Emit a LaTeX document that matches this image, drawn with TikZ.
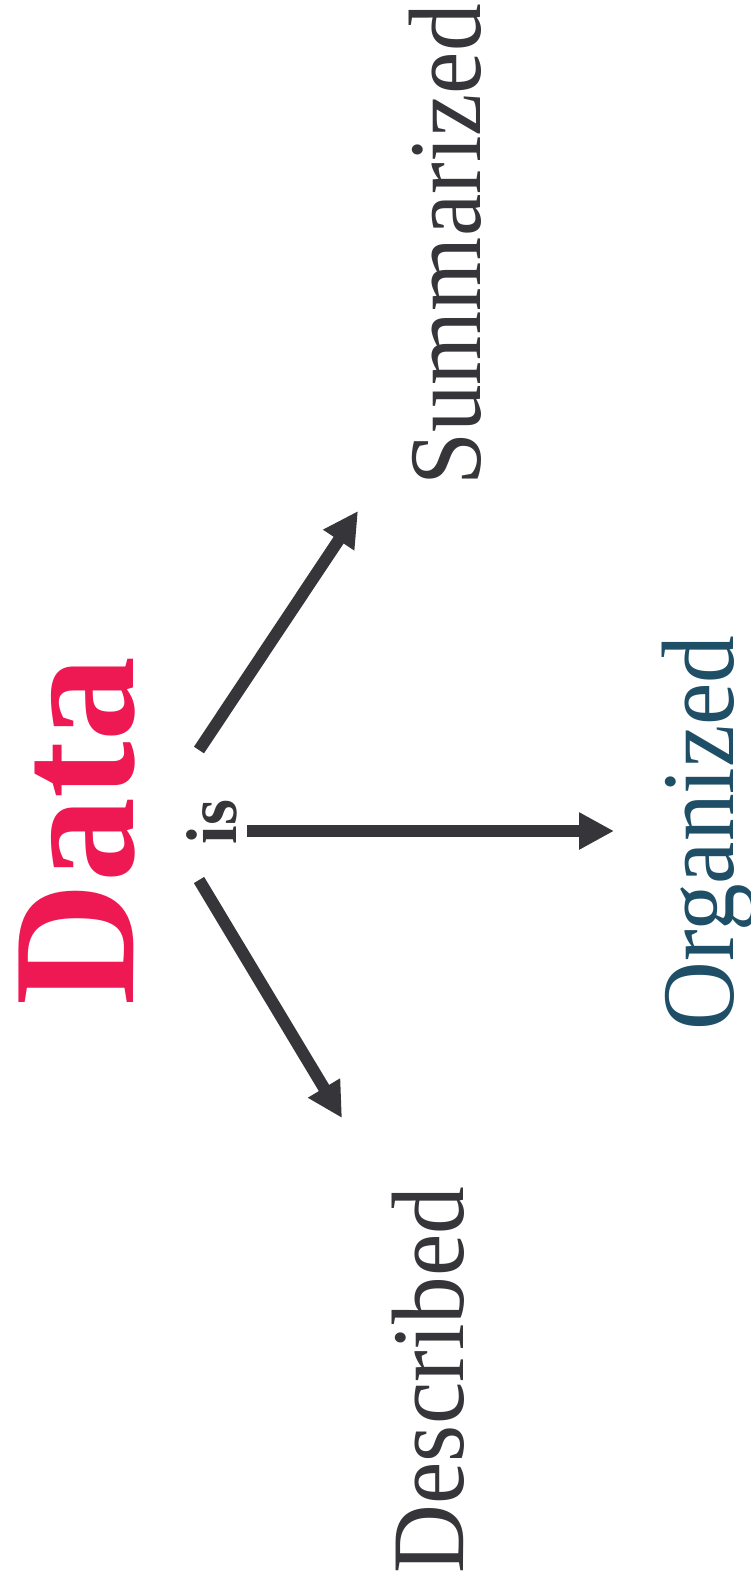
\documentclass[tikz,border=0pt]{standalone}
\usepackage{fontspec}
\setmainfont{Liberation Serif}
\newfontfamily\wordfont{Liberation Serif}[FakeStretch=0.925]
\newfontfamily\datafont{Liberation Serif}[FakeStretch=0.97]
\usetikzlibrary{arrows.meta}
\definecolor{datared}{HTML}{EE1852}
\definecolor{ink}{HTML}{36353A}
\definecolor{orgteal}{HTML}{1F4F66}
\begin{document}
\begin{tikzpicture}[x=1pt,y=1pt,
  word/.style={rotate=90,anchor=base,inner sep=0pt,text=ink,font=\wordfont\fontsize{103}{103}\selectfont},
  arr/.style={draw=ink,line width=12pt,-{Triangle[length=35pt,width=35pt]}}]
\fill[white] (0,0) rectangle (751,-1589);
\useasboundingbox (0,0) rectangle (751,-1589);
\node[word,text=datared,font=\datafont\fontsize{175}{175}\selectfont\bfseries] (data) at (133,-831) {Data};
\node[word,font=\wordfont\fontsize{72}{72}\selectfont\bfseries] (is) at (236,-822) {is};
\node[word] (sum) at (480,-245) {Summarized};
\node[word,text=orgteal] (org) at (733,-833) {Organized};
\node[word] (des) at (463,-1380) {Described};
\coordinate (us) at (199,-750);
\coordinate (ut) at (358,-511);
\coordinate (ms) at (247,-831);
\coordinate (mt) at (614,-831);
\coordinate (ls) at (199,-880);
\coordinate (lt) at (342,-1118);
\draw[arr] (us) -- (ut);
\draw[arr] (ms) -- (mt);
\draw[arr] (ls) -- (lt);
\end{tikzpicture}
\end{document}
